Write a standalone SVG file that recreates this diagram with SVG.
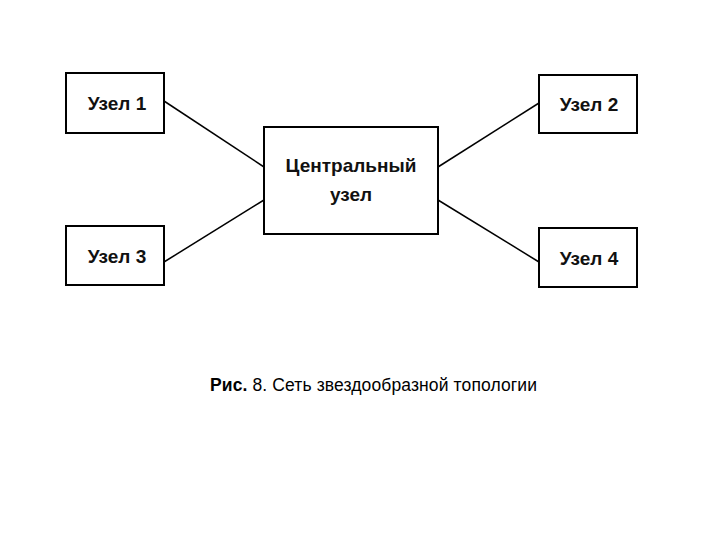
<svg xmlns="http://www.w3.org/2000/svg" width="720" height="540" viewBox="0 0 720 540">
<style>
.box{fill:#fff;stroke:#000;stroke-width:2}
.t{font-family:"Liberation Sans",Arial,sans-serif;font-size:19px;font-weight:bold;fill:#111;text-anchor:middle}
.c{stroke:#000;stroke-width:1.5;fill:none}
.cap{font-family:"Liberation Sans",Arial,sans-serif;font-size:17.5px;fill:#000}
</style>
<rect width="720" height="540" fill="#fff"/>
<g id="connectors">
<line class="c" x1="164" y1="101" x2="264" y2="167"/>
<line class="c" x1="164" y1="262" x2="264" y2="200"/>
<line class="c" x1="539" y1="103" x2="438" y2="167"/>
<line class="c" x1="539" y1="262" x2="438" y2="200"/>
</g>
<g id="n1"><rect class="box" x="66" y="73" width="98" height="60"/><text class="t" x="117" y="110">Узел 1</text></g>
<g id="n2"><rect class="box" x="539" y="75" width="98" height="58"/><text class="t" x="589" y="111">Узел 2</text></g>
<g id="n3"><rect class="box" x="66" y="226" width="98" height="59"/><text class="t" x="117" y="263">Узел 3</text></g>
<g id="n4"><rect class="box" x="539" y="228" width="98" height="59"/><text class="t" x="589" y="265">Узел 4</text></g>
<g id="center"><rect class="box" x="264" y="127" width="174" height="107"/><text class="t" x="351" y="172">Центральный</text><text class="t" x="351" y="201">узел</text></g>
<text class="cap" x="210" y="391" textLength="327"><tspan font-weight="bold">Рис.</tspan> 8. Сеть звездообразной топологии</text>
</svg>
